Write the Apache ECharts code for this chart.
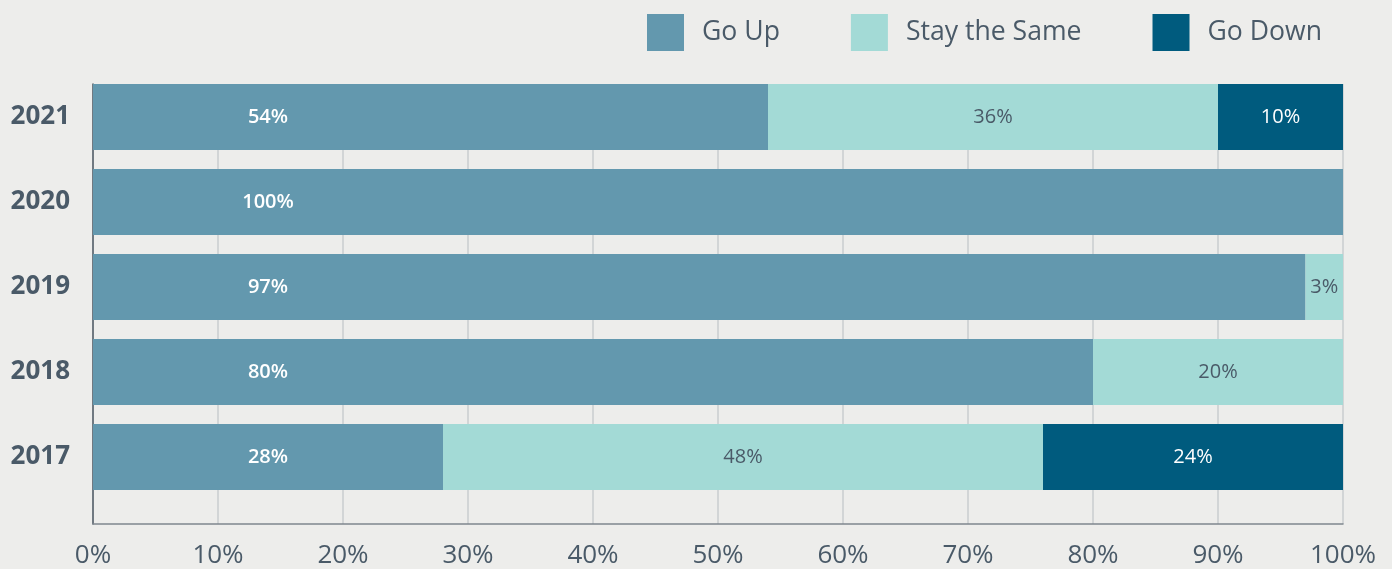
<!DOCTYPE html>
<html>
<head>
<meta charset="utf-8">
<script src="https://cdn.jsdelivr.net/npm/echarts@6/dist/echarts.min.js"></script>
<style>
  html, body { margin: 0; padding: 0; background: #ededeb; }
  #chart { width: 1392px; height: 569px; }
</style>
</head>
<body>
<div id="chart"></div>
<script>
// Expectations per year, share of responses (%)
const years = ['2021', '2020', '2019', '2018', '2017'];
const goUp = [54, 100, 97, 80, 28];
const staySame = [36, 0, 3, 20, 48];
const goDown = [10, 0, 0, 0, 24];
const xTicks = [0, 10, 20, 30, 40, 50, 60, 70, 80, 90, 100];

const FONT = '"Open Sans", "Noto Sans", sans-serif';
const TEXT = '#4a5a68';

const pct = p => (p.value ? p.value + '%' : '');

const chart = echarts.init(document.getElementById('chart'));
chart.setOption({
  backgroundColor: '#ededeb',
  animation: false,
  textStyle: { fontFamily: FONT },
  legend: {
    left: 642,
    top: 9,
    icon: 'rect',
    itemWidth: 37,
    itemHeight: 37,
    itemGap: 71,
    textStyle: { fontFamily: FONT, fontSize: 26.6, color: TEXT, padding: [0, 0, 0, 13] },
    data: ['Go Up', 'Stay the Same', 'Go Down']
  },
  grid: [
    { left: 93, right: 49, top: 74.5, height: 425 },
    { left: 93, right: 49, top: 84, bottom: 43 }
  ],
  xAxis: [
    { gridIndex: 0, type: 'value', min: 0, max: 100, show: false },
    {
      gridIndex: 1, type: 'value', min: 0, max: 100, interval: 10,
      axisLine: { show: true, lineStyle: { color: '#7f878e', width: 1.5 } },
      axisTick: { show: false },
      axisLabel: {
        formatter: v => (xTicks.includes(v) ? v + '%' : ''),
        fontFamily: FONT, fontSize: 26, color: TEXT, margin: 19
      },
      splitLine: { show: true, lineStyle: { color: '#c9cccf', width: 1.5 } }
    }
  ],
  yAxis: [
    {
      gridIndex: 0, type: 'category', data: years, inverse: true,
      axisLine: { show: false }, axisTick: { show: false },
      axisLabel: { fontFamily: FONT, fontSize: 26, fontWeight: 'bold', color: TEXT, margin: 23 }
    },
    {
      gridIndex: 1, type: 'value', min: 0, max: 1,
      axisLine: { show: true, lineStyle: { color: '#4f5a64', width: 1.5 } },
      axisTick: { show: false }, axisLabel: { show: false }, splitLine: { show: false }
    }
  ],
  series: [
    {
      name: 'Go Up', type: 'bar', stack: 'total', barWidth: 66,
      xAxisIndex: 0, yAxisIndex: 0, data: goUp,
      itemStyle: { color: '#6398ae' },
      label: {
        show: true, position: [175, '50%'], align: 'center', verticalAlign: 'middle',
        formatter: pct, color: '#ffffff', fontFamily: FONT, fontSize: 20, fontWeight: 600
      }
    },
    {
      name: 'Stay the Same', type: 'bar', stack: 'total', barWidth: 66,
      xAxisIndex: 0, yAxisIndex: 0, data: staySame,
      itemStyle: { color: '#a3dad6' },
      label: {
        show: true, position: 'inside', formatter: pct,
        color: TEXT, fontFamily: FONT, fontSize: 20
      }
    },
    {
      name: 'Go Down', type: 'bar', stack: 'total', barWidth: 66,
      xAxisIndex: 0, yAxisIndex: 0, data: goDown,
      itemStyle: { color: '#005b7e' },
      label: {
        show: true, position: 'inside', formatter: pct,
        color: '#ffffff', fontFamily: FONT, fontSize: 20
      }
    }
  ]
});
</script>
</body>
</html>
